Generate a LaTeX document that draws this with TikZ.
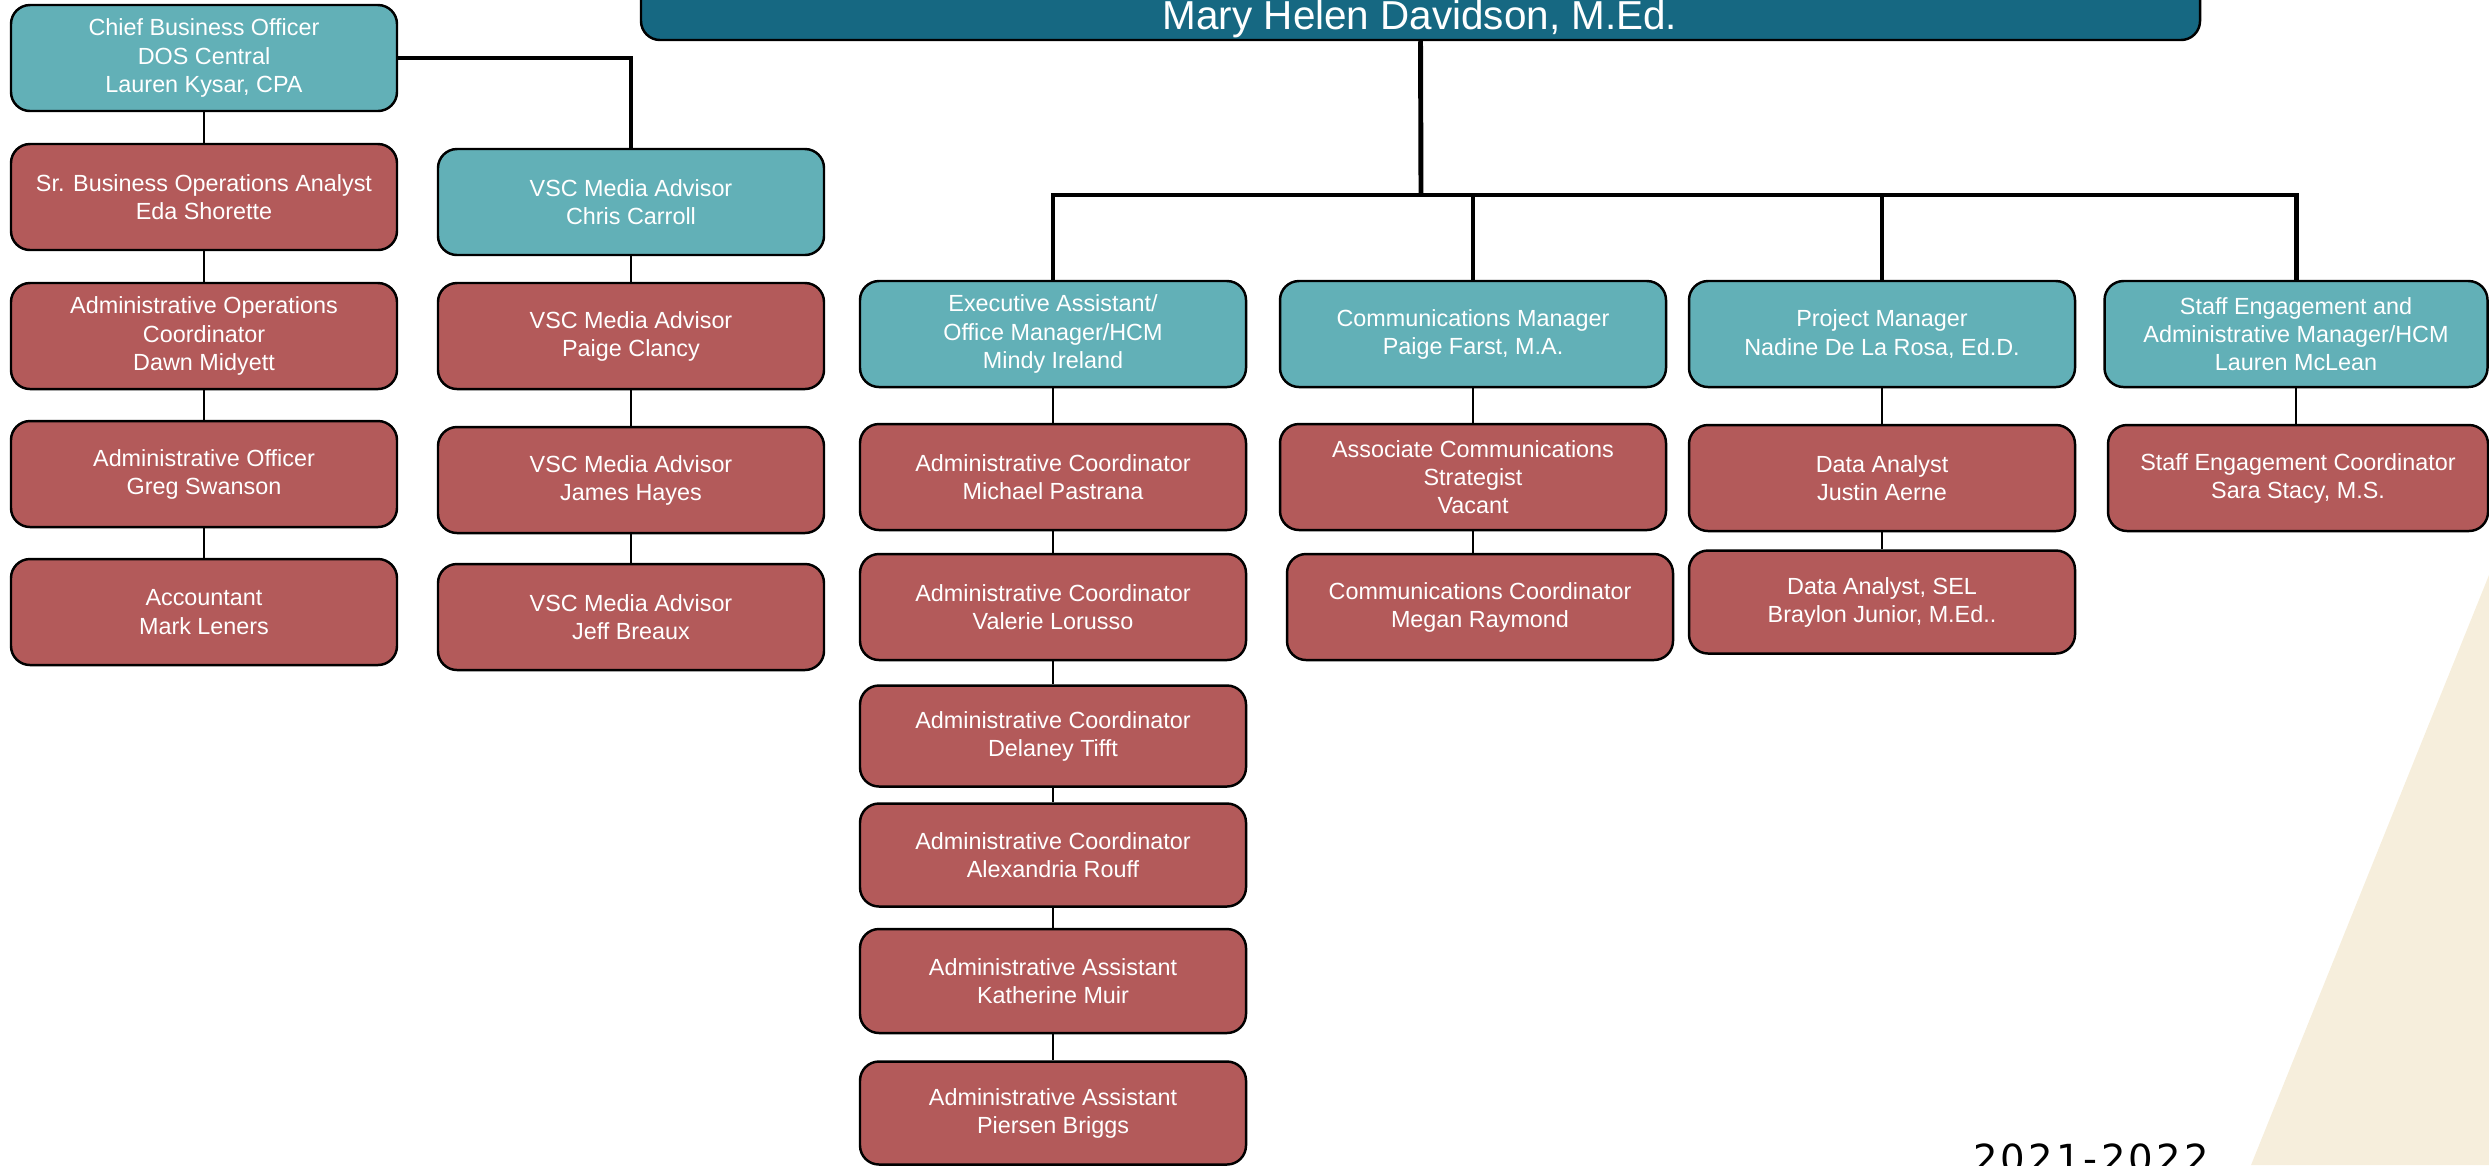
\documentclass[tikz,border=0pt]{standalone}
\usepackage{fontspec}
\setmainfont{Liberation Sans}
\newfontfamily\yearfont{DejaVu Sans}[LetterSpace=8]
\usepackage{tikz}
\definecolor{tealbox}{HTML}{62B0B7}
\definecolor{darkteal}{HTML}{166882}
\definecolor{redbox}{HTML}{B35A5A}
\definecolor{beige}{HTML}{F6EEDC}
\tikzset{
  box/.style={draw=black, line width=0.7pt, rounded corners=0.19cm, minimum width=3.86cm,
    minimum height=1.06cm, inner sep=0pt, align=center, text=white,
    font=\fontsize{6.65}{8}\selectfont},
  lead/.style={box, fill=tealbox},
  staff/.style={box, fill=redbox},
  link/.style={line width=0.45pt},
  bus/.style={line width=1.4pt},
}
\begin{document}
\begin{tikzpicture}
      \useasboundingbox (0,0) rectangle (24.89,-11.65);
      \fill[beige] (24.89,-5.75) -- (22.51,-11.65) -- (24.89,-11.65) -- cycle;
      \node[box, fill=darkteal, minimum width=15.59cm, minimum height=1.2cm] (dir) at (14.205,0.20) {};
      \node[anchor=base, text=white, font=\fontsize{11.5}{13}\selectfont] (dirname) at (14.20,-0.29) {Mary Helen Davidson, M.Ed.};
      \node[lead]  (cbo)  at (2.04,-0.58)  {Chief Business Officer\\DOS Central\\Lauren Kysar, CPA};
      \node[staff] (sr)   at (2.04,-1.97)  {Sr. Business Operations Analyst\\Eda Shorette};
      \node[staff] (aops) at (2.04,-3.36)  {Administrative Operations\\Coordinator\\Dawn Midyett};
      \node[staff] (aoff) at (2.04,-4.74)  {Administrative Officer\\Greg Swanson};
      \node[staff] (acct) at (2.04,-6.12)  {Accountant\\Mark Leners};
      \node[lead]  (chris) at (6.31,-2.02) {VSC Media Advisor\\Chris Carroll};
      \node[staff] (paige) at (6.31,-3.36) {VSC Media Advisor\\Paige Clancy};
      \node[staff] (james) at (6.31,-4.80) {VSC Media Advisor\\James Hayes};
      \node[staff] (jeff)  at (6.31,-6.17) {VSC Media Advisor\\Jeff Breaux};
      \node[lead]  (exec) at (10.53,-3.34) {Executive Assistant/\\Office Manager/HCM\\Mindy Ireland};
      \node[staff] (mich) at (10.53,-4.77) {Administrative Coordinator\\Michael Pastrana};
      \node[staff] (val)  at (10.53,-6.07) {Administrative Coordinator\\Valerie Lorusso};
      \node[staff, minimum height=1.01cm] (del)  at (10.53,-7.36) {Administrative Coordinator\\Delaney Tifft};
      \node[staff, minimum height=1.03cm] (alex) at (10.53,-8.55) {Administrative Coordinator\\Alexandria Rouff};
      \node[staff, minimum height=1.04cm] (kath) at (10.53,-9.81) {Administrative Assistant\\Katherine Muir};
      \node[staff, minimum height=1.03cm] (pier) at (10.53,-11.13) {Administrative Assistant\\Piersen Briggs};
      \node[lead]  (comm)  at (14.73,-3.34) {Communications Manager\\Paige Farst, M.A.};
      \node[staff] (assoc) at (14.73,-4.77) {Associate Communications\\Strategist\\Vacant};
      \node[staff] (megan) at (14.80,-6.07) {Communications Coordinator\\Megan Raymond};
      \node[lead]  (pm)     at (18.82,-3.34) {Project Manager\\Nadine De La Rosa, Ed.D.};
      \node[staff] (justin) at (18.82,-4.78) {Data Analyst\\Justin Aerne};
      \node[staff, minimum height=1.03cm] (bray) at (18.82,-6.02) {Data Analyst, SEL\\Braylon Junior, M.Ed..};
      \node[lead, minimum width=3.83cm]  (seng) at (22.96,-3.34) {Staff Engagement and\\Administrative Manager/HCM\\Lauren McLean};
      \node[staff, minimum width=3.80cm] (sara) at (22.98,-4.78) {Staff Engagement Coordinator\\Sara Stacy, M.S.};
      \node[anchor=north, inner sep=0pt, font=\yearfont\fontsize{11}{13}\selectfont] (term) at (20.91,-11.43) {2021-2022};
      \coordinate (hub) at (14.21,-1.95);
      \draw[bus] (dir.south) -- (hub);
      \foreach \n in {exec,comm,pm,seng}
        \draw[bus] (hub) -| (\n.north);
      \draw[line width=0.9pt] (cbo.east) -| (chris.north);
      \foreach \a/\b in {cbo/sr,sr/aops,aops/aoff,aoff/acct,chris/paige,paige/james,james/jeff,
          exec/mich,mich/val,val/del,del/alex,alex/kath,kath/pier,comm/assoc,assoc/megan,
          pm/justin,justin/bray,seng/sara}
        \draw[link] (\a.south) -- (\a.south |- \b.north);
    \end{tikzpicture}
\end{document}
